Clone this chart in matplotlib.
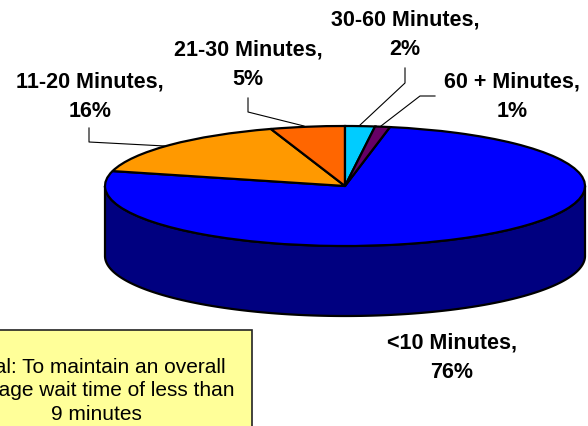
import matplotlib
matplotlib.use('Agg')
import matplotlib.pyplot as plt
import numpy as np
from matplotlib.patches import Rectangle

plt.rcParams['font.family'] = ['Liberation Sans', 'DejaVu Sans']

categories = ['<10 Minutes', '11-20 Minutes', '21-30 Minutes', '30-60 Minutes', '60 + Minutes']
shares = [76, 16, 5, 2, 1]
colors = ['#0000FF', '#FF9900', '#FF6600', '#00CCFF', '#660066']
goal_text = 'Goal: To maintain an overall\naverage wait time of less than\n9 minutes'

W, H = 588, 427
cx, cy = 345, 187
rx, ry = 240, 60
depth = 70

fig = plt.figure(figsize=(W / 100, H / 100), dpi=100)

# pie axes: unit circle squashed into the ellipse of the tilted disc
ax = fig.add_axes([0, 0, 1, 1])
t = np.linspace(np.pi, 2 * np.pi, 300)
d = depth / ry
xs = np.r_[np.cos(t), np.cos(t[::-1])]
ys = np.r_[np.sin(t) - d, np.sin(t[::-1])]
ax.fill(xs, ys, facecolor='#000080', edgecolor='black', lw=1.6, zorder=1)
ax.pie(shares, colors=colors, startangle=79.2, counterclock=False,
       radius=1, wedgeprops={'edgecolor': 'black', 'linewidth': 1.6, 'zorder': 2})
ax.set_aspect('auto')
ax.set_xlim(-cx / rx, (W - cx) / rx)
ax.set_ylim(-(H - cy) / ry, cy / ry)
ax.axis('off')

# overlay in pixel coordinates for the labels and the callout
ov = fig.add_axes([0, 0, 1, 1], facecolor='none')
ov.set_xlim(0, W)
ov.set_ylim(H, 0)
ov.axis('off')

label_pos = [(452, 358), (90, 97), (248, 65), (405, 35), (512, 97)]
for name, val, (x, y) in zip(categories, shares, label_pos):
    ov.text(x, y, f'{name},\n{val}%', ha='center', va='center', fontsize=15.5,
            fontweight='bold', linespacing=1.55, color='black')

leaders = [
    ([89, 89, 165], [129, 143, 147]),
    ([248, 248, 304], [99, 113, 127]),
    ([405, 405, 359], [69, 84, 127]),
    ([435, 420, 381], [97, 97, 127]),
]
for lx, ly in leaders:
    ov.plot(lx, ly, color='black', lw=0.8)

ov.add_patch(Rectangle((-60, 331), 312, 110, facecolor='#FFFF99', edgecolor='#222222', lw=1.2))
ov.text(96, 391, goal_text, ha='center', va='center', fontsize=15, linespacing=1.3, color='black')

fig.savefig('out.png', dpi=100)
